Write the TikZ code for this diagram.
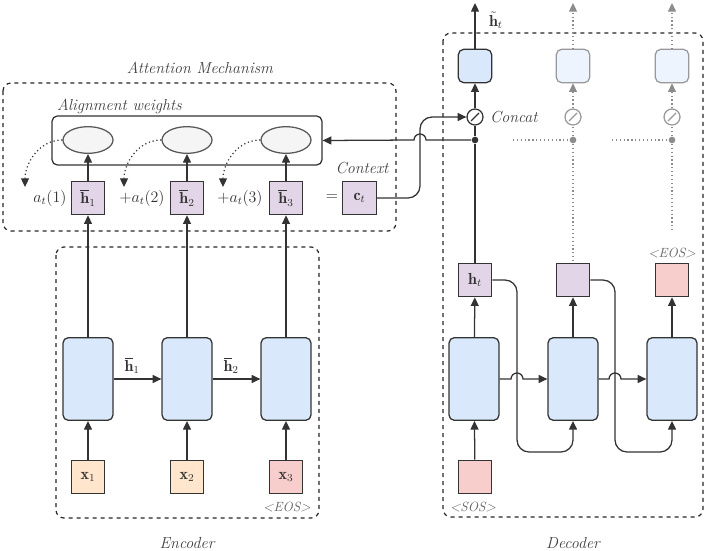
\documentclass[tikz,border=0pt]{standalone}
\usepackage{fontspec}
\usepackage{amsmath,amssymb}
\usetikzlibrary{positioning,arrows.meta,shapes.geometric}
\definecolor{cellblue}{HTML}{DAE8FC}
\definecolor{ghostblue}{HTML}{EEF4FD}
\definecolor{hidpurple}{HTML}{E1D5E7}
\definecolor{inorange}{HTML}{FFE6CC}
\definecolor{tokpink}{HTML}{F8CECC}

\begin{document}
\begin{tikzpicture}[x=0.75pt,y=-0.75pt,>={Triangle[length=6.5pt,width=6pt]},line width=0.95pt,color=black!80,
  cell/.style={draw,rounded corners=4pt,fill=cellblue,minimum width=37.5pt,minimum height=62pt},
  vec/.style={draw,fill=#1,minimum size=25pt,inner sep=0pt,font=\large},
  score/.style={ellipse,draw=black!65,fill=black!4,minimum width=37.5pt,minimum height=20pt},
  concat/.style={circle,draw,fill=white,minimum size=12pt,inner sep=0pt},
  junction/.style={circle,fill,inner sep=0pt,minimum size=5pt},
  lbl/.style={font=\large\itshape,text=black!75},
  small lbl/.style={font=\itshape,text=black!60},
  group/.style={dashed,rounded corners=6pt,line width=0.9pt,draw=black!85},
  ghost/.style={draw=black!40,text=black!40},
  ghostline/.style={dotted,draw=black!45,line width=0.9pt,-{Triangle[length=6.5pt,width=6pt,fill=black!45]}}]
\useasboundingbox (0,0) rectangle (707,550);

% groups
\draw[group] (3,83) rectangle (396,231);
\draw[group] (56,247) rectangle (319,518);
\draw[group] (443,33) rectangle (703,517);
\node[lbl] (attnlbl) at (200,68) {Attention Mechanism};
\node[lbl] (enclbl) at (187,543) {Encoder};
\node[lbl] (declbl) at (573,543) {Decoder};

% attention
\node[draw,rounded corners=4pt,minimum width=202.5pt,minimum height=36.75pt] (align) at (187,140.5) {};
\node[lbl,anchor=west] (alignlbl) at (52,106) {Alignment weights};
\foreach \i/\x in {1/88,2/187,3/286} {
  \node[score] (sc\i) at (\x,140) {};
  \node[vec=hidpurple] (hb\i) at (\x,198) {$\overline{\mathbf{h}}_\i$};
  \coordinate (w\i) at ({\x-63},187);
  \draw[dotted,line width=0.9pt,->] (sc\i.west) to[out=180,in=90] (w\i);
  \draw[->] (hb\i) -- (sc\i);
}
\node[font=\large] (a1) at (50,198) {$a_t(1)$};
\node[font=\large] (a2) at (142,198) {$+a_t(2)$};
\node[font=\large] (a3) at (240,198) {$+a_t(3)$};
\node[font=\large] (eq) at (332,198) {$=$};
\node[vec=hidpurple] (ct) at (359.5,198) {$\mathbf{c}_t$};
\node[lbl] (ctxlbl) at (362,168) {Context};

% encoder
\foreach \i/\x in {1/88,2/187,3/286} {
  \node[cell] (enc\i) at (\x,379) {};
  \draw[->] (enc\i) -- (hb\i);
}
\node[vec=inorange] (x1) at (88,477) {$\mathbf{x}_1$};
\node[vec=inorange] (x2) at (187,477) {$\mathbf{x}_2$};
\node[vec=tokpink] (x3) at (286,477) {$\mathbf{x}_3$};
\node[small lbl] (eos1) at (287,507) {<EOS>};
\foreach \i in {1,2,3} \draw[->] (x\i) -- (enc\i);
\draw[->] (enc1) -- node[above,font=\large,xshift=-4pt] {$\overline{\mathbf{h}}_1$} (enc2);
\draw[->] (enc2) -- node[above,font=\large,xshift=-4pt] {$\overline{\mathbf{h}}_2$} (enc3);

% decoder
\node[cell] (dec1) at (474,379) {};
\node[cell] (dec2) at (573,379) {};
\node[cell] (dec3) at (672,379) {};
\node[vec=hidpurple] (ht) at (475,280) {$\mathbf{h}_t$};
\node[vec=hidpurple] (hd2) at (573,280) {};
\node[vec=tokpink] (eos) at (672,280) {};
\node[small lbl] (eos2) at (672,253) {<EOS>};
\node[vec=tokpink] (sos) at (475,477) {};
\node[small lbl] (soslbl) at (473,507) {<SOS>};
\draw[->] (sos) -- (dec1);
\draw[->] (dec1) -- (ht);
\draw[->] (dec2) -- (hd2);
\draw[->] (dec3) -- (eos);
\draw[->] (dec1) -- (511,379) arc[start angle=180,end angle=0,radius=4.5pt] -- (dec2);
\draw[->] (dec2) -- (609,379) arc[start angle=180,end angle=0,radius=4.5pt] -- (dec3);
\draw[->,rounded corners=9pt] (ht) -- (517,280) -- (517,452) -- (573,452) -- (dec2);
\draw[->,rounded corners=9pt] (hd2) -- (615,280) -- (615,452) -- (672,452) -- (dec3);

% output step
\node[vec=cellblue,rounded corners=4pt] (out1) at (475,66) {};
\node[vec=ghostblue,rounded corners=4pt,ghost] (out2) at (573,66) {};
\node[vec=ghostblue,rounded corners=4pt,ghost] (out3) at (672,66) {};
\node[concat] (cc1) at (475,117) {};
\node[concat,ghost] (cc2) at (573,117) {};
\node[concat,ghost] (cc3) at (672,117) {};
\draw ([shift={(-4,4)}]cc1.center) -- ([shift={(4,-4)}]cc1.center);
\draw[black!40] ([shift={(-4,4)}]cc2.center) -- ([shift={(4,-4)}]cc2.center);
\draw[black!40] ([shift={(-4,4)}]cc3.center) -- ([shift={(4,-4)}]cc3.center);
\node[lbl,anchor=west] (catlbl) at (485,117) {Concat};
\node[junction] (j1) at (475,140) {};
\node[junction,black!45] (j2) at (573,140) {};
\node[junction,black!45] (j3) at (672,140) {};
\coordinate (o1) at (475,3);
\coordinate (o2) at (573,3);
\coordinate (o3) at (672,3);
\node[font=\large,anchor=west] (htl) at (484,20) {$\tilde{\mathbf{h}}_t$};
\draw (ht) -- (j1);
\draw (j1) -- (cc1);
\draw[->] (cc1) -- (out1);
\draw[->] (out1) -- (o1);
\draw[->] (j1) -- (426,140) arc[start angle=0,end angle=180,radius=4.5pt] -- (align.east);
\draw[->,rounded corners=9pt] (ct) -- (420,198) -- (420,117) -- (cc1);

% later steps (faded)
\coordinate (g2) at (513,140);
\coordinate (g3) at (612,140);
\coordinate (g3b) at (672,230);
\draw[ghostline] (cc2) -- (out2);
\draw[ghostline] (out2) -- (o2);
\draw[ghostline] (cc3) -- (out3);
\draw[ghostline] (out3) -- (o3);
\draw[dotted,draw=black!45,line width=0.9pt] (g2) -- (j2) -- (cc2) (j2) -- (hd2);
\draw[dotted,draw=black!45,line width=0.9pt] (g3) -- (j3) -- (cc3) (j3) -- (g3b);
\end{tikzpicture}
\end{document}
